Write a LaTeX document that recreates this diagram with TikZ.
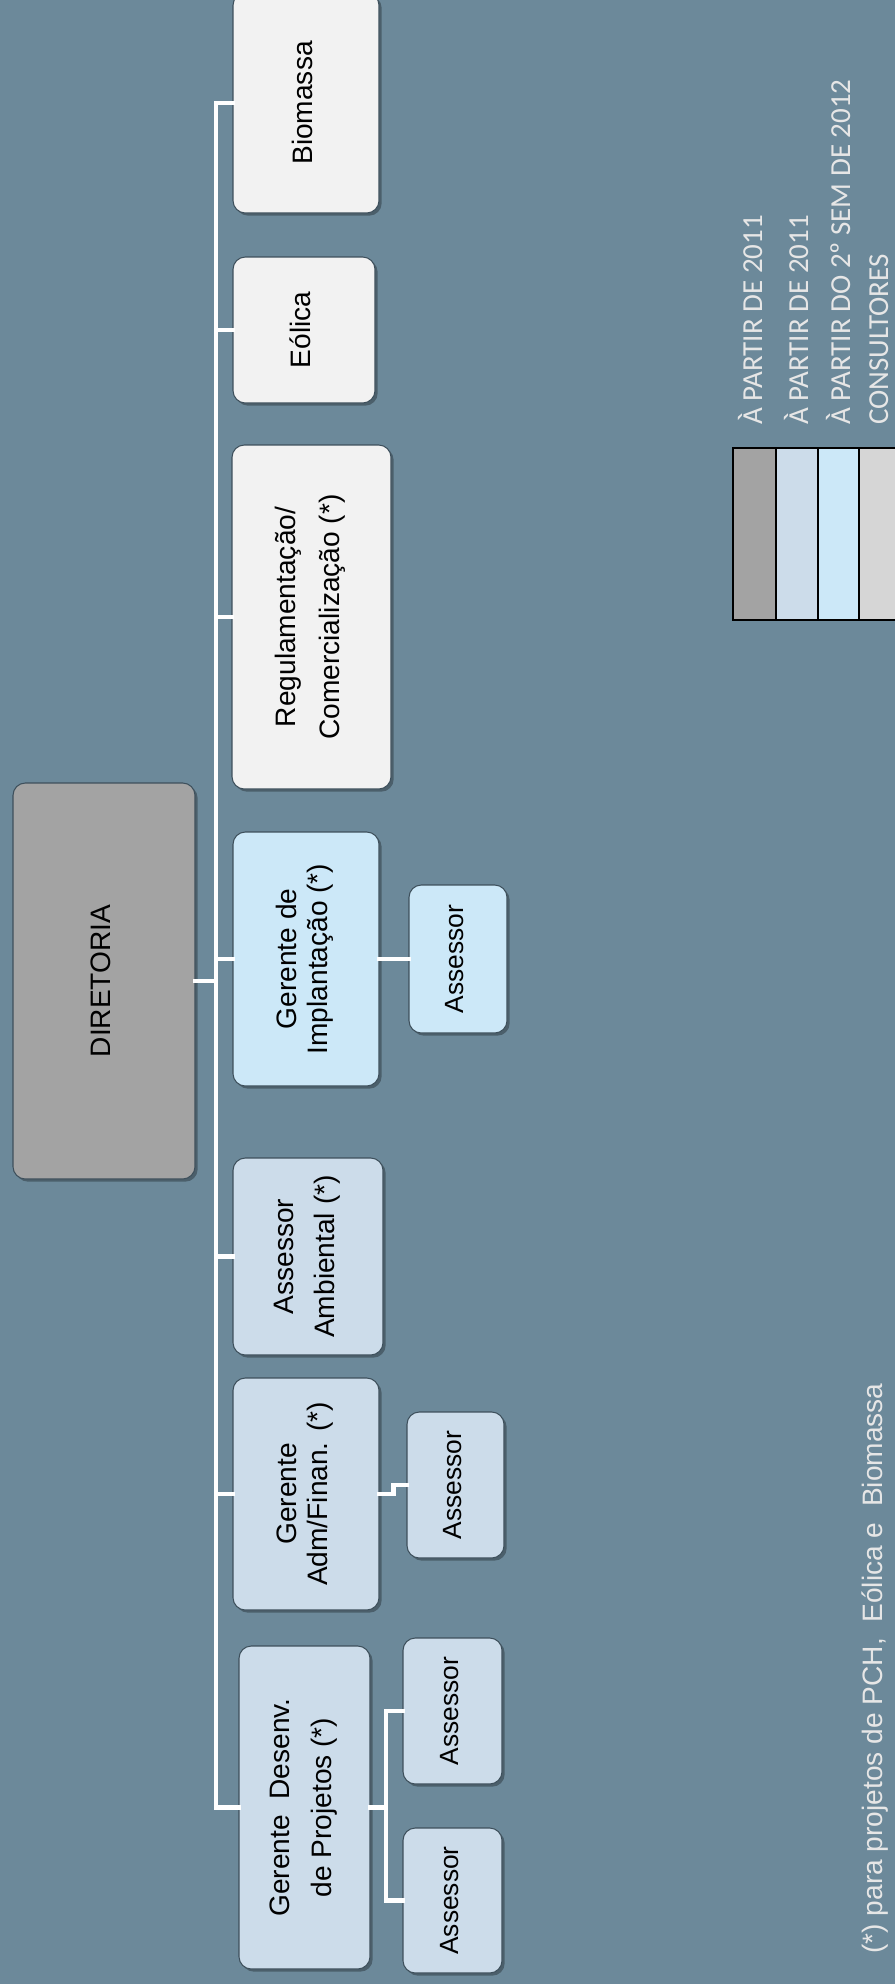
\documentclass[tikz,border=0pt]{standalone}
\usepackage{fontspec}
\setmainfont{Liberation Sans}
\newfontfamily\legfont{Carlito}
\usetikzlibrary{shadows}
\definecolor{bgcol}{HTML}{6C899A}
\definecolor{boxline}{HTML}{3E505C}
\definecolor{dircol}{HTML}{A3A3A3}
\definecolor{gercol}{HTML}{CCDCEA}
\definecolor{implcol}{HTML}{CCE8F8}
\definecolor{extcol}{HTML}{F2F2F2}
\definecolor{conscol}{HTML}{D6D6D6}
\definecolor{legtxt}{HTML}{E6E6E6}
\tikzset{
  box/.style={draw=boxline,line width=.6pt,rounded corners=7pt,inner sep=0pt,
    font=\fontsize{16}{17.5}\selectfont,
    drop shadow={shadow xshift=1.5pt,shadow yshift=-1.5pt,opacity=.3,fill=black}},
  asr/.style={box,font=\fontsize{15}{17}\selectfont},
  sz/.style 2 args={minimum width=#1*0.02cm,minimum height=#2*0.02cm},
  link/.style={draw=white,line width=2.6pt,line cap=rect},
  legtext/.style={rotate=90,anchor=base west,inner sep=0pt,text=legtxt,
    font=\legfont\fontsize{16.5}{20}\selectfont}
}
\newcommand{\vtxt}[1]{\rotatebox{90}{\begin{tabular}{@{}c@{}}#1\end{tabular}}}
\begin{document}
\begin{tikzpicture}[x=0.02cm,y=-0.02cm]
  \useasboundingbox (0,0) rectangle (895,1984);
  \clip (0,0) rectangle (895,1984);
  \fill[bgcol] (0,0) rectangle (895,1984);

  % top level and areas
  \node[box,fill=dircol,sz={182}{396}] (dir) at (104,981) {\vtxt{DIRETORIA}};
  \node[box,fill=extcol,sz={146}{220}] (bio) at (306,103) {\vtxt{Biomassa}};
  \node[box,fill=extcol,sz={142}{146}] (eol) at (304,330) {\vtxt{Eólica}};
  \node[box,fill=extcol,sz={159}{344}] (reg) at (311.5,617)
    {\vtxt{Regulamentação/\\[7.5pt]Comercialização (*)}};
  \node[box,fill=implcol,sz={146}{254}] (impl) at (306,959)
    {\vtxt{Gerente de\\Implantação (*)}};
  \node[box,fill=gercol,sz={150}{197}] (amb) at (308,1256.5)
    {\vtxt{Assessor\\[6pt]Ambiental (*)}};
  \node[box,fill=gercol,sz={146}{232}] (adm) at (306,1494)
    {\vtxt{Gerente\\Adm/Finan. (*)}};
  \node[box,fill=gercol,sz={131}{323}] (des) at (304.5,1807.5)
    {\vtxt{Gerente\ \ Desenv.\\[6.5pt]de Projetos (*)}};

  % assessores
  \node[asr,fill=implcol,sz={98}{148}] (implA) at (458,959) {\vtxt{Assessor}};
  \node[asr,fill=gercol,sz={97}{146}] (admA) at (455.5,1485) {\vtxt{Assessor}};
  \node[asr,fill=gercol,sz={99}{146}] (desA) at (452.5,1711) {\vtxt{Assessor}};
  \node[asr,fill=gercol,sz={99}{145}] (desB) at (452.5,1900.5) {\vtxt{Assessor}};

  % connectors
  \coordinate (trunk) at (216,0);
  \coordinate (split) at (386,0);
  \draw[link] (bio.west -| trunk) -- (des.west -| trunk);
  \foreach \n in {bio,eol,reg,impl,amb,adm,des}
    \draw[link] (\n.west -| trunk) -- (\n.west);
  \draw[link] (dir.east) -- (dir.east -| trunk);
  \draw[link] (impl.east) -- (implA.west);
  \draw[link] (adm.east) -- ++(14,0) |- (admA.west);
  \draw[link] (des.east) -- (des.east -| split);
  \draw[link] (desA.west -| split) -- (desB.west -| split);
  \foreach \n in {desA,desB}
    \draw[link] (\n.west -| split) -- (\n.west);

  % legend
  \foreach \xa/\xb/\c in {733/776/dircol,776/818/gercol,818/859/implcol,859/905/conscol}
    \filldraw[fill=\c,draw=black,line width=1.4pt] (\xa,448) rectangle (\xb,620);
  \node[legtext] (leg1) at (762,425) {À PARTIR DE 2011};
  \node[legtext] (leg2) at (808,425) {À PARTIR DE 2011};
  \node[legtext] (leg3) at (850,425) {À PARTIR DO 2º SEM DE 2012};
  \node[legtext] (leg4) at (888,425) {CONSULTORES};

  % footnote
  \node[rotate=90,anchor=base west,inner sep=0pt,text=legtxt,
    font=\fontsize{16}{19}\selectfont] (note) at (882,1954)
    {(*) para projetos de PCH,\ \ Eólica e\ \ Biomassa};
\end{tikzpicture}
\end{document}
